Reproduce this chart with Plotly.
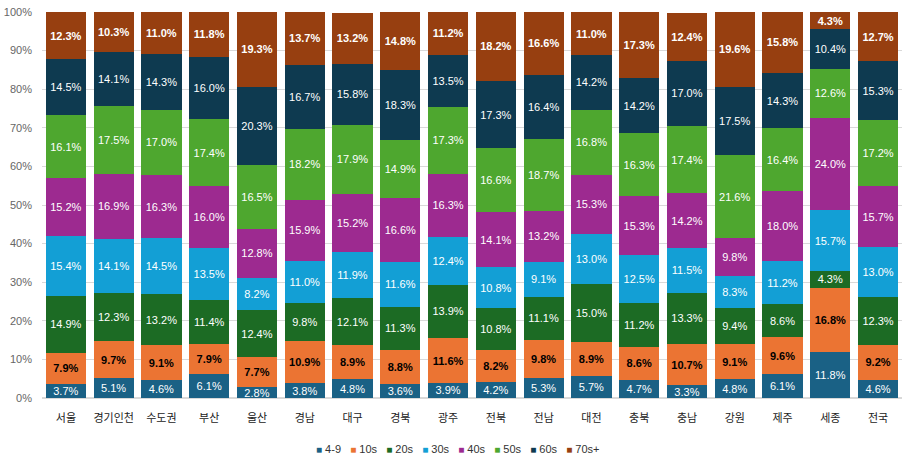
import plotly.graph_objects as go

# 지역
regions = ['서울', '경기인천', '수도권', '부산', '울산', '경남', '대구', '경북', '광주',
           '전북', '전남', '대전', '충북', '충남', '강원', '제주', '세종', '전국']

# 연령대별 비율 (%)
age_4_9 = [3.7, 5.1, 4.6, 6.1, 2.8, 3.8, 4.8, 3.6, 3.9, 4.2, 5.3, 5.7, 4.7, 3.3, 4.8, 6.1, 11.8, 4.6]
age_10s = [7.9, 9.7, 9.1, 7.9, 7.7, 10.9, 8.9, 8.8, 11.6, 8.2, 9.8, 8.9, 8.6, 10.7, 9.1, 9.6, 16.8, 9.2]
age_20s = [14.9, 12.3, 13.2, 11.4, 12.4, 9.8, 12.1, 11.3, 13.9, 10.8, 11.1, 15.0, 11.2, 13.3, 9.4, 8.6, 4.3, 12.3]
age_30s = [15.4, 14.1, 14.5, 13.5, 8.2, 11.0, 11.9, 11.6, 12.4, 10.8, 9.1, 13.0, 12.5, 11.5, 8.3, 11.2, 15.7, 13.0]
age_40s = [15.2, 16.9, 16.3, 16.0, 12.8, 15.9, 15.2, 16.6, 16.3, 14.1, 13.2, 15.3, 15.3, 14.2, 9.8, 18.0, 24.0, 15.7]
age_50s = [16.1, 17.5, 17.0, 17.4, 16.5, 18.2, 17.9, 14.9, 17.3, 16.6, 18.7, 16.8, 16.3, 17.4, 21.6, 16.4, 12.6, 17.2]
age_60s = [14.5, 14.1, 14.3, 16.0, 20.3, 16.7, 15.8, 18.3, 13.5, 17.3, 16.4, 14.2, 14.2, 17.0, 17.5, 14.3, 10.4, 15.3]
age_70p = [12.3, 10.3, 11.0, 11.8, 19.3, 13.7, 13.2, 14.8, 11.2, 18.2, 16.6, 11.0, 17.3, 12.4, 19.6, 15.8, 4.3, 12.7]

series = [
    ('4-9', age_4_9, '#1a6185', 'white', False),
    ('10s', age_10s, '#eb7433', 'black', True),
    ('20s', age_20s, '#1c6b24', 'white', False),
    ('30s', age_30s, '#139fd5', 'white', False),
    ('40s', age_40s, '#9d2a90', 'white', False),
    ('50s', age_50s, '#4ea72f', 'white', False),
    ('60s', age_60s, '#0e3a50', 'white', False),
    ('70s+', age_70p, '#973f10', 'white', True),
]

fig = go.Figure()
for name, vals, color, tcolor, bold in series:
    fmt = '<b>%{y:.1f}%</b>' if bold else '%{y:.1f}%'
    fig.add_trace(go.Bar(
        x=regions,
        y=vals,
        name=name,
        marker=dict(color=color, line=dict(width=0)),
        texttemplate=fmt,
        textposition='inside',
        insidetextanchor='middle',
        textangle=0,
        textfont=dict(color=tcolor, size=11, family='Liberation Sans'),
    ))

# 범례 (컴팩트하게 텍스트로)
legend_parts = []
for name, vals, color, tcolor, bold in series:
    legend_parts.append(f'<span style="color:{color};font-size:10px">■</span> {name}')
legend_text = '&nbsp;&nbsp;&nbsp;'.join(legend_parts)

fig.add_annotation(
    text=legend_text, xref='paper', yref='paper', x=0.484, y=-0.132,
    xanchor='center', yanchor='middle', showarrow=False,
    font=dict(size=11, color='#333', family='Liberation Sans'),
)

fig.update_layout(
    barmode='stack',
    bargap=0.16,
    width=908,
    height=465,
    margin=dict(l=42, r=6, t=12, b=67),
    plot_bgcolor='white',
    paper_bgcolor='white',
    font=dict(family='Liberation Sans', size=11, color='#333'),
    uniformtext=dict(minsize=11, mode='show'),
    showlegend=False,
    xaxis=dict(tickfont=dict(size=11, color='#222', family='Noto Sans CJK KR'),
               showgrid=False, ticks='', showline=False, automargin=False,
               ticklabelstandoff=12),
    yaxis=dict(range=[0, 100], dtick=10, ticksuffix='%', showgrid=True,
               gridcolor='#d9d9d9', gridwidth=1, zeroline=True, zerolinecolor='#d9d9d9',
               tickfont=dict(size=11, color='#666'), ticks='', showline=False,
               automargin=False, ticklabelstandoff=9),
)

# 페이지 기본 여백 제거, 모드바 숨김
fig.write_html("out.html", config={'displayModeBar': False},
               post_script="document.body.style.margin='0';")
